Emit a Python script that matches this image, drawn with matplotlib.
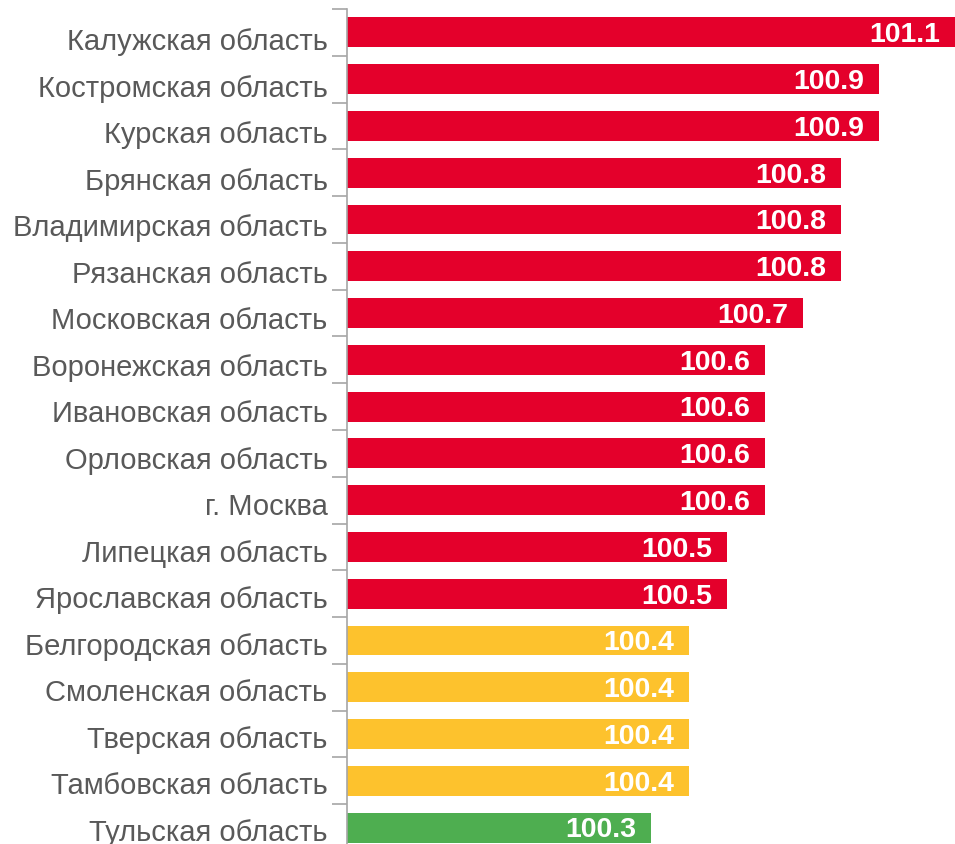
import numpy as np
import matplotlib.pyplot as plt
import matplotlib.transforms as mtransforms

plt.rcParams['font.family'] = ['Liberation Sans', 'DejaVu Sans']

regions = ['Калужская область', 'Костромская область', 'Курская область',
           'Брянская область', 'Владимирская область', 'Рязанская область',
           'Московская область', 'Воронежская область', 'Ивановская область',
           'Орловская область', 'г. Москва', 'Липецкая область',
           'Ярославская область', 'Белгородская область', 'Смоленская область',
           'Тверская область', 'Тамбовская область', 'Тульская область']
values = [101.1, 100.9, 100.9, 100.8, 100.8, 100.8, 100.7, 100.6, 100.6,
          100.6, 100.6, 100.5, 100.5, 100.4, 100.4, 100.4, 100.4, 100.3]

red = '#E4002B'
yellow = '#FDC22D'
green = '#4EAE50'
colors = [red if v >= 100.5 else (yellow if v >= 100.4 else green) for v in values]

base = 99.5

fig = plt.figure(figsize=(9.55, 8.45), dpi=100)
# axes goes a bit past the bottom edge, like the original picture
ax = fig.add_axes([347/955, 1 - 852/845, 1 - 347/955, 842/845])

y = np.arange(len(regions))
ax.barh(y, np.array(values) - base, left=base, height=0.64, color=colors)

for yi, v in zip(y, values):
    ax.text(v - 0.04, yi + 0.04, f'{v:.1f}', ha='right', va='center',
            color='white', fontsize=20.5, fontweight='bold')

ax.set_xlim(base, 101.1)
ax.set_ylim(len(regions) - 0.5, -0.5)

ax.set_yticks(y)
ax.set_yticklabels(regions, fontsize=21, color='#595959')
ax.set_yticks(np.arange(-0.5, len(regions), 1), minor=True)
ax.tick_params(axis='y', which='major', length=0, pad=14)
ax.tick_params(axis='y', which='minor', length=11, color='#a6a6a6', width=1.2)
ax.set_xticks([])

# labels sit a little lower than the bars at the top, less so at the bottom
n = len(regions)
for i, lab in enumerate(ax.get_yticklabels()):
    dy = (6 - 5 * i / (n - 1)) / 100
    shift = mtransforms.ScaledTranslation(0, -dy, fig.dpi_scale_trans)
    lab.set_transform(lab.get_transform() + shift)

for s in ['top', 'right', 'bottom']:
    ax.spines[s].set_visible(False)
ax.spines['left'].set_color('#a6a6a6')
ax.spines['left'].set_linewidth(1.2)

fig.savefig('out.png', dpi=100)
